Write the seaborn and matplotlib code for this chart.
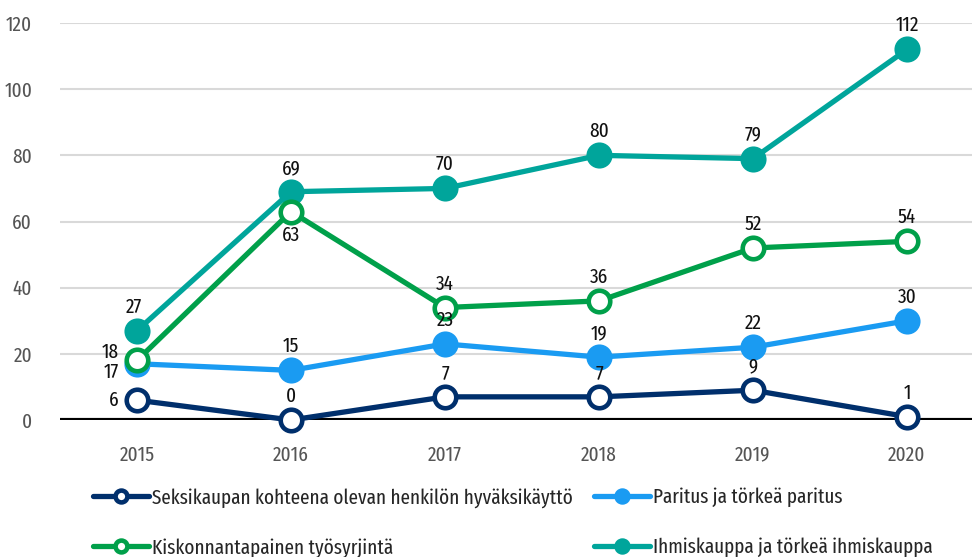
import pandas as pd
import matplotlib.pyplot as plt
import seaborn as sns

years = [2015, 2016, 2017, 2018, 2019, 2020]
series_names = [
    'Seksikaupan kohteena olevan henkilön hyväksikäyttö',
    'Paritus ja törkeä paritus',
    'Kiskonnantapainen työsyrjintä',
    'Ihmiskauppa ja törkeä ihmiskauppa',
]
hyvaksikaytto = [6, 0, 7, 7, 9, 1]
paritus = [17, 15, 23, 19, 22, 30]
tyosyrjinta = [18, 63, 34, 36, 52, 54]
ihmiskauppa = [27, 69, 70, 80, 79, 112]
colors = ['#002f6c', '#1a9bf2', '#00a04a', '#00a59b']
open_marker = [True, False, True, False]

sns.set_theme(style='white')
plt.rcParams['font.family'] = ['Fira Sans Extra Condensed', 'DejaVu Sans']

values = [hyvaksikaytto, paritus, tyosyrjinta, ihmiskauppa]
df = pd.DataFrame({'year': years * 4,
                   'value': sum(values, []),
                   'series': [n for n in series_names for _ in years]})

fig = plt.figure(figsize=(9.72, 5.57), dpi=100)
ax = fig.add_axes([60 / 972, 1 - 420 / 557, 1 - 60 / 972, (420 - 23) / 557])

# draw back to front: teal, light blue, green, navy
zorders = {3: 3, 1: 4, 2: 5, 0: 6}
for i in [3, 1, 2, 0]:
    sub = df[df['series'] == series_names[i]]
    sns.lineplot(data=sub, x='year', y='value', ax=ax, color=colors[i],
                 linewidth=3.8, marker='o', markersize=15.5,
                 markerfacecolor='white' if open_marker[i] else colors[i],
                 markeredgecolor=colors[i], markeredgewidth=3.3,
                 label=series_names[i], clip_on=False, zorder=zorders[i])

# data labels (offsets in points)
above = (0, 10, 'center', 'bottom')
offsets = {
    0: [(-13, 0, 'right', 'center')] + [above] * 5,
    1: [(-13, -6, 'right', 'center')] + [above] * 5,
    2: [(-13, 6, 'right', 'center'), (0, -10, 'center', 'top')] + [above] * 4,
    3: [(-2, 10, 'center', 'bottom')] + [above] * 5,
}
for i, vals in enumerate(values):
    for j, (x, v) in enumerate(zip(years, vals)):
        dx, dy, ha, va = offsets[i][j]
        ax.annotate(str(v), (x, v), xytext=(dx, dy), textcoords='offset points',
                    ha=ha, va=va, fontsize=15, color='#111111', zorder=10)

ax.set_xlim(2014.5, 2015 + (972 - 137) / 154)
ax.set_ylim(0, 120)
ax.set_yticks(range(0, 121, 20))
ax.set_xticks(years)
ax.set_xlabel('')
ax.set_ylabel('')
ax.grid(axis='y', color='#d9d9d9', linewidth=1.5)
ax.set_axisbelow(True)
for s in ['top', 'right', 'left', 'bottom']:
    ax.spines[s].set_visible(False)
ax.axhline(0, color='black', linewidth=3, zorder=2)
ax.tick_params(axis='both', length=0, labelsize=15, labelcolor='#555555')
ax.tick_params(axis='y', pad=20)
ax.tick_params(axis='x', pad=18)

handles, labels = ax.get_legend_handles_labels()
hmap = dict(zip(labels, handles))
ax.get_legend().remove()
order = [0, 2, 1, 3]  # legend fills column-wise
fig.legend([hmap[series_names[k]] for k in order], [series_names[k] for k in order],
           ncol=2, loc='lower left', bbox_to_anchor=(74 / 972, -0.035),
           frameon=False, fontsize=15, handlelength=2.7, handletextpad=0.15,
           columnspacing=1.0, labelspacing=1.45, markerscale=0.55)

fig.savefig('out.png', dpi=100)
